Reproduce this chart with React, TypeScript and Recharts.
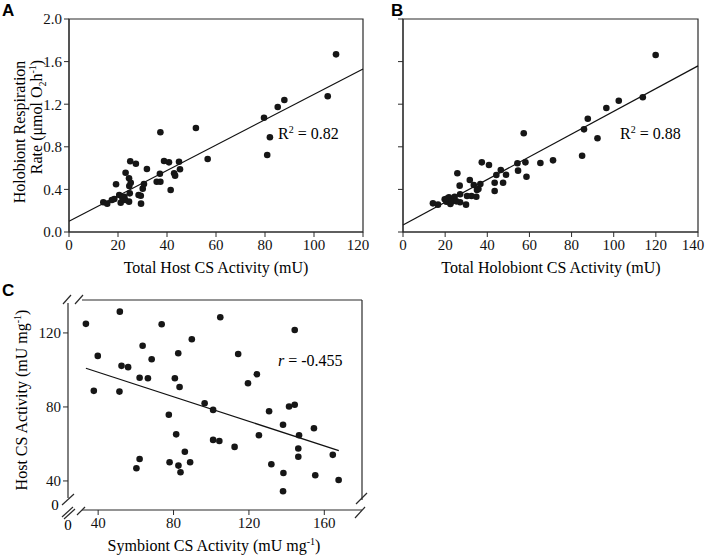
import React from "react";
import {
  ScatterChart,
  Scatter,
  XAxis,
  YAxis,
  ReferenceLine,
  ReferenceArea,
} from "recharts";

const FONT = '"Liberation Serif", "Times New Roman", serif';
const SANS = '"Liberation Sans", Arial, sans-serif';
const INK = "#161616";
const AXIS = "#2a2a2a";

// Panel A: total host CS activity (mU) vs holobiont respiration
const hostCsA = [
  14.0, 15.6, 19.2, 18.5, 20.5, 21.1, 22.6, 23.1, 24.5, 25.0, 24.6, 25.2, 24.8, 24.5, 22.9,
  27.3, 28.4, 29.3, 29.4, 30.1, 30.6, 31.8, 35.8, 37.1, 37.3, 37.3, 38.8, 40.8, 41.5, 42.9,
  43.3, 44.9, 45.3, 51.8, 56.6, 79.6, 80.9, 82.0, 85.2, 87.9, 105.6, 109.0, 17.5, 21.8,
]
const respA = [
  0.279, 0.266, 0.448, 0.31, 0.347, 0.275, 0.33, 0.557, 0.504, 0.664, 0.432, 0.463, 0.363, 0.285, 0.3,
  0.641, 0.347, 0.341, 0.266, 0.407, 0.451, 0.592, 0.472, 0.547, 0.472, 0.936, 0.667, 0.654, 0.394, 0.551,
  0.529, 0.66, 0.589, 0.977, 0.685, 1.073, 0.723, 0.889, 1.174, 1.239, 1.274, 1.668, 0.3, 0.32,
]
const fitA = [{ x: 0, y: 0.101 }, { x: 120, y: 1.531 }]

// Panel B: total holobiont CS activity (mU) vs holobiont respiration
const holoCsB = [
  14.2, 16.6, 19.8, 20.6, 21.8, 22.5, 23.7, 24.5, 25.8, 26.9, 27.1, 27.1, 29.9, 31.7, 32.5,
  33.6, 34.8, 35.1, 35.8, 36.7, 37.4, 40.8, 43.5, 43.5, 44.3, 46.4, 47.5, 48.9, 54.3, 54.6,
  57.3, 58.1, 58.6, 65.2, 71.2, 85.0, 85.9, 87.7, 92.3, 96.5, 102.4, 113.8, 119.9, 20.9, 23.0,
  25.3, 30.4,
]
const respB = [
  0.269, 0.257, 0.307, 0.285, 0.326, 0.263, 0.3, 0.331, 0.551, 0.435, 0.354, 0.279, 0.257, 0.488, 0.338,
  0.441, 0.331, 0.394, 0.404, 0.451, 0.654, 0.629, 0.463, 0.385, 0.535, 0.582, 0.463, 0.538, 0.645, 0.576,
  0.927, 0.654, 0.519, 0.648, 0.673, 0.716, 0.964, 1.064, 0.88, 1.164, 1.233, 1.265, 1.662, 0.313, 0.285,
  0.288, 0.338,
]
const fitB = [{ x: 0, y: 0.066 }, { x: 140, y: 1.56 }]

// Panel C: symbiont CS activity vs host CS activity (mU mg-1)
const symCsC = [
  33.5, 51.5, 39.8, 37.7, 51.3, 52.4, 55.9, 63.6, 62.0, 66.4, 68.4, 73.7, 60.3, 62.0, 77.5,
  80.7, 82.5, 83.2, 81.4, 77.9, 82.6, 83.7, 86.0, 88.8, 89.7, 96.5, 101.0, 101.0, 104.3, 104.8,
  112.4, 114.3, 119.5, 124.2, 125.3, 130.7, 131.9, 138.1, 138.3, 138.1, 141.3, 144.3, 144.3, 146.6, 146.2,
  146.2, 154.5, 155.2, 164.5, 167.6,
]
const hostCsC = [
  124.9, 131.5, 107.6, 88.7, 88.3, 102.2, 101.5, 113.1, 95.8, 95.5, 105.8, 124.7, 46.9, 51.9, 75.8,
  95.5, 109.0, 90.8, 65.2, 50.1, 48.3, 44.7, 55.8, 50.1, 116.6, 82.0, 78.4, 62.2, 61.6, 128.5,
  58.4, 108.6, 92.8, 97.7, 64.7, 77.7, 49.0, 70.4, 44.3, 34.4, 80.2, 81.2, 121.6, 64.7, 57.5,
  53.1, 68.5, 43.1, 54.1, 40.5,
]
const fitC = [{ x: 33.5, y: 100.9 }, { x: 167.7, y: 56.4 }]

const ticksA = [0, 20, 40, 60, 80, 100, 120]
const ticksB = [0, 20, 40, 60, 80, 100, 120, 140]
const ticksResp = [0, 0.4, 0.8, 1.2, 1.6, 2.0]
const ticksCx = [40, 80, 120, 160]
const ticksCy = [40, 80, 120]

const zip = (xs: number[], ys: number[]) => xs.map((x, i) => ({ x, y: ys[i] }))

const Dot = (p: any) => <circle cx={p.cx} cy={p.cy} r={3.3} fill={INK} />

// tick labels drawn as plain svg text so the serif face sticks
const XTick = (p: any) => (
  <text x={p.x} y={p.y} dy="0.71em" textAnchor="middle" fontSize={15} fontFamily={FONT} fill="#111">
    {p.payload.value}
  </text>
)
const YTick = (fmt: (v: number) => string) => (p: any) => (
  <text x={p.x} y={p.y} dy="0.355em" textAnchor="end" fontSize={15} fontFamily={FONT} fill="#111">
    {fmt(p.payload.value)}
  </text>
)

function Overlay() {
  // plot box of panel C (pixels) for the broken-axis frame
  const L = 68, R = 362, T = 300, B = 510
  const s = { stroke: AXIS, strokeWidth: 1.2 }
  return (
    <svg
      width={709}
      height={557}
      style={{ position: "absolute", left: 0, top: 0, pointerEvents: "none" }}
      fontFamily={FONT}
      fill="#000"
    >
      <text x={2} y={16} fontFamily={SANS} fontWeight="bold" fontSize={17}>A</text>
      <text x={391} y={16} fontFamily={SANS} fontWeight="bold" fontSize={17}>B</text>
      <text x={2} y={296} fontFamily={SANS} fontWeight="bold" fontSize={17}>C</text>

      {/* axis titles */}
      <text transform="translate(25,132) rotate(-90)" textAnchor="middle" fontSize={16}>
        Holobiont Respiration
      </text>
      <text transform="translate(42,117) rotate(-90)" textAnchor="middle" fontSize={16}>
        Rate (μmol O<tspan dy={4} fontSize={10}>2</tspan>
        <tspan dy={-4}>h</tspan>
        <tspan dy={-6} fontSize={10}>-1</tspan>
        <tspan dy={6}>)</tspan>
      </text>
      <text x={216} y={273} textAnchor="middle" fontSize={16}>Total Host CS Activity (mU)</text>
      <text x={551} y={273} textAnchor="middle" fontSize={16}>Total Holobiont CS Activity (mU)</text>
      <text x={214} y={551} textAnchor="middle" fontSize={16}>
        Symbiont CS Activity (mU mg<tspan dy={-6} fontSize={10}>-1</tspan>
        <tspan dy={6}>)</tspan>
      </text>
      <text transform="translate(27,400) rotate(-90)" textAnchor="middle" fontSize={16}>
        Host CS Activity (mU mg<tspan dy={-6} fontSize={10}>-1</tspan>
        <tspan dy={6}>)</tspan>
      </text>

      {/* fit annotations */}
      <text x={278} y={139} fontSize={16}>
        R<tspan dy={-6} fontSize={10}>2</tspan>
        <tspan dy={6}> = 0.82</tspan>
      </text>
      <text x={620} y={139} fontSize={16}>
        R<tspan dy={-6} fontSize={10}>2</tspan>
        <tspan dy={6}> = 0.88</tspan>
      </text>
      <text x={278} y={366} fontSize={16}>
        <tspan fontStyle="italic">r</tspan>  = -0.455
      </text>

      {/* panel C broken frame */}
      <line x1={L} y1={T + 3} x2={L} y2={B - 12} {...s} />
      <line x1={L + 14} y1={T} x2={R} y2={T} {...s} />
      <line x1={R} y1={T} x2={R} y2={B - 10} {...s} />
      <line x1={L + 14} y1={B} x2={R} y2={B} {...s} />
      <line x1={L - 5} y1={T + 4} x2={L + 3} y2={T - 5} {...s} />
      <line x1={L + 7} y1={T + 4} x2={L + 15} y2={T - 5} {...s} />
      <line x1={L - 6} y1={B - 5} x2={L + 6} y2={B - 16} {...s} />
      <line x1={L - 6} y1={B + 7} x2={L + 5} y2={B - 3} {...s} />
      <line x1={L - 4} y1={B + 9} x2={L + 7} y2={B - 1} {...s} />
      <line x1={L + 9} y1={B + 5} x2={L + 17} y2={B - 3} {...s} />
      <line x1={R - 6} y1={B - 6} x2={R + 5} y2={B - 17} {...s} />
      <line x1={R - 7} y1={B + 8} x2={R + 3} y2={B - 3} {...s} />
      <text x={55} y={510} textAnchor="middle" fontSize={15}>0</text>
      <text x={68} y={530} textAnchor="middle" fontSize={15}>0</text>
    </svg>
  )
}

export default function App() {
  const ptsA = zip(hostCsA, respA)
  const ptsB = zip(holoCsB, respB)
  const ptsC = zip(symCsC, hostCsC)

  return (
    <div
      style={{
        position: "absolute",
        left: 0,
        top: 0,
        width: 709,
        height: 557,
        background: "#fff",
        fontFamily: FONT,
        overflow: "hidden",
      }}
    >
      <div style={{ position: "absolute", left: 0, top: 0 }}>
        <ScatterChart width={370} height={280} margin={{ top: 19, right: 7, bottom: 0, left: 0 }}>
          <XAxis
            type="number"
            dataKey="x"
            domain={[0, 120]}
            ticks={ticksA}
            height={48}
            tick={XTick}
            tickSize={5}
            stroke={AXIS}
          />
          <YAxis
            type="number"
            dataKey="y"
            domain={[0, 2]}
            ticks={ticksResp}
            width={69}
            tick={YTick((v) => v.toFixed(1))}
            tickSize={5}
            stroke={AXIS}
          />
          <ReferenceArea x1={0} x2={120} y1={0} y2={2} fill="none" stroke={AXIS} strokeWidth={1.2} />
          <ReferenceLine segment={fitA} stroke="#111" strokeWidth={1.2} />
          <Scatter data={ptsA} shape={Dot} isAnimationActive={false} />
        </ScatterChart>
      </div>

      <div style={{ position: "absolute", left: 340, top: 0 }}>
        <ScatterChart width={365} height={280} margin={{ top: 19, right: 7, bottom: 0, left: 0 }}>
          <XAxis
            type="number"
            dataKey="x"
            domain={[0, 140]}
            ticks={ticksB}
            height={48}
            tick={XTick}
            tickSize={5}
            stroke={AXIS}
          />
          <YAxis
            type="number"
            dataKey="y"
            domain={[0, 2]}
            ticks={ticksResp}
            width={63}
            tick={YTick(() => "")}
            tickSize={5}
            stroke={AXIS}
          />
          <ReferenceArea x1={0} x2={140} y1={0} y2={2} fill="none" stroke={AXIS} strokeWidth={1.2} />
          <ReferenceLine segment={fitB} stroke="#111" strokeWidth={1.2} />
          <Scatter data={ptsB} shape={Dot} isAnimationActive={false} />
        </ScatterChart>
      </div>

      <div style={{ position: "absolute", left: 0, top: 280 }}>
        <ScatterChart width={369} height={277} margin={{ top: 20, right: 7, bottom: 0, left: 0 }}>
          <XAxis
            type="number"
            dataKey="x"
            domain={[24, 180]}
            ticks={ticksCx}
            height={47}
            tick={XTick}
            tickSize={5}
            axisLine={false}
            stroke={AXIS}
          />
          <YAxis
            type="number"
            dataKey="y"
            domain={[24.3, 137.8]}
            ticks={ticksCy}
            width={68}
            tick={YTick((v) => String(v))}
            tickSize={5}
            axisLine={false}
            stroke={AXIS}
          />
          <ReferenceLine segment={fitC} stroke="#111" strokeWidth={1.2} />
          <Scatter data={ptsC} shape={Dot} isAnimationActive={false} />
        </ScatterChart>
      </div>

      <Overlay />
    </div>
  )
}
